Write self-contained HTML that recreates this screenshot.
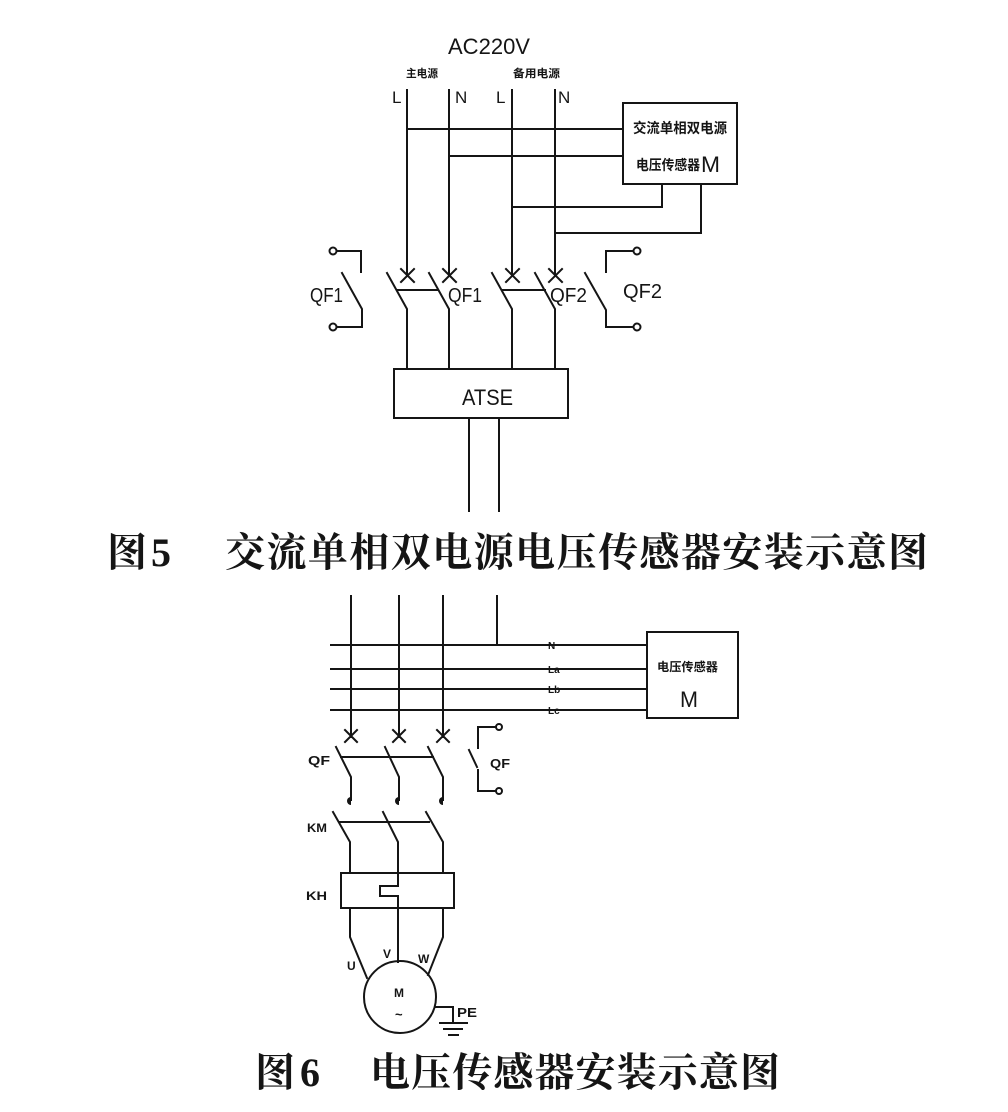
<!DOCTYPE html>
<html>
<head>
<meta charset="utf-8">
<style>
html,body{margin:0;padding:0;background:#fff;}
svg{display:block;}
.l{stroke:#151515;stroke-width:2;fill:none;stroke-linecap:square;}
.t{font-family:"Liberation Sans",sans-serif;fill:#151515;}
.c{font-family:"Liberation Sans","Noto Sans CJK SC",sans-serif;fill:#151515;font-weight:bold;}
.cap{font-family:"Liberation Serif","Noto Serif CJK SC",serif;fill:#151515;font-weight:bold;}
</style>
</head>
<body>
<svg width="1008" height="1112" viewBox="0 0 1008 1112" xmlns="http://www.w3.org/2000/svg">
<rect width="1008" height="1112" fill="#fff"/>

<!-- ===== Figure 5 ===== -->
<text class="t" x="448" y="54" font-size="22" textLength="82" lengthAdjust="spacingAndGlyphs">AC220V</text>
<text class="c" x="406" y="77" font-size="11" textLength="32" lengthAdjust="spacingAndGlyphs">主电源</text>
<text class="c" x="513" y="77" font-size="11" textLength="47" lengthAdjust="spacingAndGlyphs">备用电源</text>
<text class="t" x="392" y="103" font-size="17">L</text>
<text class="t" x="455" y="103" font-size="17">N</text>
<text class="t" x="496" y="103" font-size="17">L</text>
<text class="t" x="558" y="103" font-size="17">N</text>

<path class="l" d="M407,90 V276 M449,90 V276 M512,90 V276 M555,90 V276"/>
<path class="l" d="M407,129 H622 M449,156 H622"/>
<rect class="l" x="623" y="103" width="114" height="81"/>
<text class="c" x="633" y="133" font-size="14" textLength="94" lengthAdjust="spacingAndGlyphs">交流单相双电源</text>
<text class="c" x="636" y="170" font-size="14" textLength="64" lengthAdjust="spacingAndGlyphs">电压传感器</text>
<text class="t" x="701" y="172" font-size="22" textLength="19" lengthAdjust="spacingAndGlyphs">M</text>
<path class="l" d="M662,184 V207 H512 M701,184 V233 H555"/>

<path class="l" d="M401,269 L414,282 M414,269 L401,282 M443,269 L456,282 M456,269 L443,282 M506,269 L519,282 M519,269 L506,282 M549,269 L562,282 M562,269 L549,282"/>

<path class="l" d="M387,273 L407,309 V369 M429,273 L449,309 V369 M492,273 L512,309 V369 M535,273 L555,309 V369"/>
<path class="l" d="M397,290 H438 M502,290 H545"/>

<circle cx="333" cy="251" r="3.5" class="l"/>
<circle cx="333" cy="327" r="3.5" class="l"/>
<path class="l" d="M337,251 H361 V272 M342,273 L362,309 V327 H337"/>
<circle cx="637" cy="251" r="3.5" class="l"/>
<circle cx="637" cy="327" r="3.5" class="l"/>
<path class="l" d="M633,251 H606 V272 M585,273 L606,310 V327 H633"/>

<text class="t" x="310" y="302" font-size="20" textLength="33" lengthAdjust="spacingAndGlyphs">QF1</text>
<text class="t" x="448" y="302" font-size="20" textLength="34" lengthAdjust="spacingAndGlyphs">QF1</text>
<text class="t" x="550" y="302" font-size="20" textLength="37" lengthAdjust="spacingAndGlyphs">QF2</text>
<text class="t" x="623" y="298" font-size="20" textLength="39" lengthAdjust="spacingAndGlyphs">QF2</text>

<rect class="l" x="394" y="369" width="174" height="49"/>
<text class="t" x="462" y="405" font-size="22" textLength="51" lengthAdjust="spacingAndGlyphs">ATSE</text>
<path class="l" d="M469,418 V511 M499,418 V511"/>

<!-- caption 5 -->
<text class="cap" x="107" y="566" font-size="40">图</text>
<text class="cap" x="151" y="566" font-size="40">5</text>
<text class="cap" x="225" y="566" font-size="40" textLength="703" lengthAdjust="spacing">交流单相双电源电压传感器安装示意图</text>

<!-- ===== Figure 6 ===== -->
<path class="l" d="M351,596 V737 M399,596 V737 M443,596 V737 M497,596 V645"/>
<path class="l" d="M331,645 H647 M331,669 H647 M331,689 H647 M331,710 H647"/>
<text class="c" x="548" y="649" font-size="10">N</text>
<text class="c" x="548" y="673" font-size="10">La</text>
<text class="c" x="548" y="693" font-size="10">Lb</text>
<text class="c" x="548" y="714" font-size="10">Lc</text>
<rect class="l" x="647" y="632" width="91" height="86"/>
<text class="c" x="657" y="671" font-size="12" textLength="61" lengthAdjust="spacingAndGlyphs">电压传感器</text>
<text class="t" x="680" y="707" font-size="22" textLength="18" lengthAdjust="spacingAndGlyphs">M</text>

<path class="l" d="M345,730 L357,742 M357,730 L345,742 M393,730 L405,742 M405,730 L393,742 M437,730 L449,742 M449,730 L437,742"/>

<path class="l" d="M336,747 L351,777 V800 M385,747 L399,777 V800 M428,747 L443,777 V800"/>
<path class="l" d="M341,757 H433"/>
<path d="M351,797 V805 A4,4 0 1,1 351,797 Z" fill="#151515"/>
<path d="M399,797 V805 A4,4 0 1,1 399,797 Z" fill="#151515"/>
<path d="M443,797 V805 A4,4 0 1,1 443,797 Z" fill="#151515"/>
<text class="c" x="308" y="765" font-size="13" textLength="22" lengthAdjust="spacingAndGlyphs">QF</text>

<circle cx="499" cy="727" r="3" class="l"/>
<circle cx="499" cy="791" r="3" class="l"/>
<path class="l" d="M496,727 H478 V748 M469,750 L477,767 M478,770 V791 H496"/>
<text class="c" x="490" y="768" font-size="13" textLength="20" lengthAdjust="spacingAndGlyphs">QF</text>

<path class="l" d="M333,812 L350,842 V873 M383,812 L398,842 V873 M426,812 L443,842 V873"/>
<path class="l" d="M340,822 H429"/>
<text class="c" x="307" y="832" font-size="12" textLength="20" lengthAdjust="spacingAndGlyphs">KM</text>

<rect class="l" x="341" y="873" width="113" height="35"/>
<path class="l" d="M398,873 V886 H380 V896 H398 V962"/>
<text class="c" x="306" y="900" font-size="12" textLength="21" lengthAdjust="spacingAndGlyphs">KH</text>

<path class="l" d="M350,908 V937 L367,978 M443,908 V937 L428,975"/>
<circle cx="400" cy="997" r="36" class="l"/>
<text class="c" x="347" y="970" font-size="12">U</text>
<text class="c" x="383" y="958" font-size="12">V</text>
<text class="c" x="418" y="963" font-size="12">W</text>
<text class="c" x="394" y="997" font-size="12">M</text>
<text class="c" x="395" y="1019" font-size="13">~</text>

<path class="l" d="M436,1007 H453 V1023 M440,1023 H467 M444,1029 H462 M449,1035 H458"/>
<text class="c" x="457" y="1017" font-size="13" textLength="20" lengthAdjust="spacingAndGlyphs">PE</text>

<!-- caption 6 -->
<text class="cap" x="255" y="1086" font-size="40">图</text>
<text class="cap" x="300" y="1086" font-size="40">6</text>
<text class="cap" x="370" y="1086" font-size="40" textLength="410" lengthAdjust="spacing">电压传感器安装示意图</text>
</svg>
</body>
</html>
